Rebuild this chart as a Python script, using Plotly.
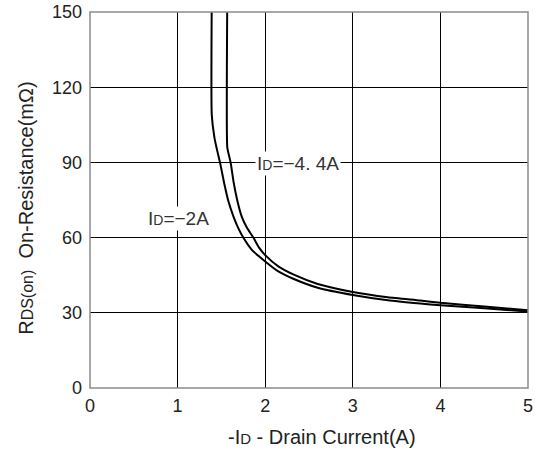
import plotly.graph_objects as go

# R_DS(on) vs. drain current, two gate conditions
x_id2 = [1.39, 1.39, 1.42, 1.45, 1.484, 1.53, 1.58, 1.636, 1.69, 1.75, 1.85, 2.0,
         2.15, 2.32, 2.6, 3.0, 3.4, 3.77, 4.0, 4.5, 5.0]
r_id2 = [155, 109, 100, 95, 90, 82, 74.5, 68.6, 64, 60, 55, 50.5,
         46.5, 43.6, 40, 37.1, 35, 33.7, 33, 31.8, 30.5]

x_id44 = [1.567, 1.567, 1.585, 1.605, 1.64, 1.68, 1.73, 1.79, 1.865, 1.93, 2.0,
          2.15, 2.32, 2.6, 3.0, 3.4, 3.77, 4.0, 4.5, 5.0]
r_id44 = [155, 96, 93, 90, 82, 75, 68.6, 64, 60, 56, 53,
          48.5, 45.3, 41.5, 38.3, 36.2, 34.9, 34, 32.5, 31]

x_ticks = [0, 1, 2, 3, 4, 5]
y_ticks = [0, 30, 60, 90, 120, 150]

label_2a = "I<span style='font-size:14px'>D</span>=−2A"
label_44a = "I<span style='font-size:14px'>D</span>=−4. 4A"
label_pos_2a = (1.01, 67.7)
label_pos_44a = (2.37, 89.6)

x_title = "-I<span style='font-size:15px'>D</span> - Drain Current(A)"
y_title = "R<span style='font-size:16px'>DS(on)</span>  On-Resistance(mΩ)"

FONT = "Liberation Sans, Arial, sans-serif"
TXT = "#222222"

fig = go.Figure()
for xs, ys in [(x_id2, r_id2), (x_id44, r_id44)]:
    fig.add_trace(go.Scatter(
        x=xs, y=ys, mode="lines",
        line=dict(color="black", width=2, shape="spline", smoothing=0.5),
        showlegend=False, hoverinfo="skip", cliponaxis=True,
    ))

for text, (lx, ly) in [(label_2a, label_pos_2a), (label_44a, label_pos_44a)]:
    fig.add_annotation(
        x=lx, y=ly, text=text, showarrow=False,
        font=dict(family=FONT, size=19, color="#333333"),
        bgcolor="white", borderpad=1,
    )

# axis titles placed as free text (paper coords are relative to the plot area)
fig.add_annotation(
    x=0.53, y=-0.130, xref="paper", yref="paper", text=x_title, showarrow=False,
    xanchor="center", yanchor="middle",
    font=dict(family=FONT, size=20, color=TXT),
)
fig.add_annotation(
    x=-0.148, y=0.477, xref="paper", yref="paper", text=y_title,
    showarrow=False, textangle=-90, xanchor="center", yanchor="middle",
    font=dict(family=FONT, size=20, color=TXT),
)

axis_common = dict(
    showgrid=True, gridcolor="black", gridwidth=1,
    showline=False, zeroline=False, ticks="", automargin=False,
    tickfont=dict(family=FONT, size=18, color=TXT),
)

fig.update_xaxes(range=[0, 5], tickvals=x_ticks, ticklabelstandoff=5, **axis_common)
fig.update_yaxes(range=[0, 150], tickvals=y_ticks, ticklabelstandoff=7, **axis_common)

# grey frame around the plotting area
fig.add_shape(type="rect", xref="paper", yref="paper", x0=0, x1=1, y0=0, y1=1,
              line=dict(color="#8c8c8c", width=1.5), layer="above")

fig.update_layout(
    width=535, height=450,
    margin=dict(l=90, r=7, t=12, b=62, autoexpand=False),
    paper_bgcolor="white", plot_bgcolor="white",
)

fig.write_html("out.html")
